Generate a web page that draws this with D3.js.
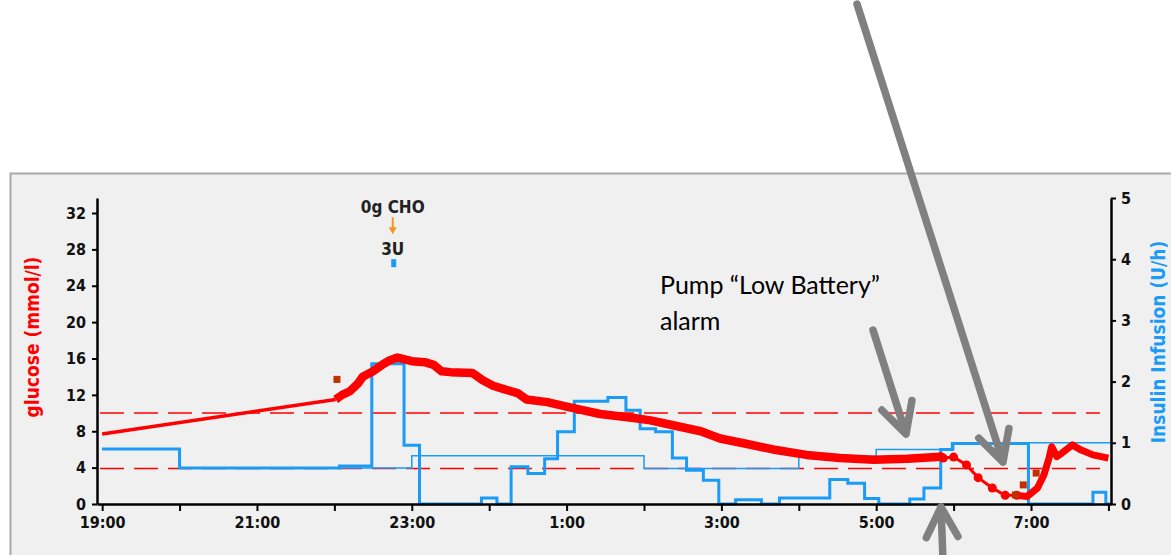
<!DOCTYPE html>
<html>
<head>
<meta charset="utf-8">
<script src="https://cdn.jsdelivr.net/npm/d3@7"></script>
<style>
  body { margin: 0; background: #fff; }
  svg { display: block; }
</style>
</head>
<body>
<svg id="chart" width="1171" height="555"></svg>
<script>
// delivered insulin infusion (U/h), step changes
const infusionTimes = ["19:00", "20:00", "22:04", "22:29", "22:54", "23:06", "23:54", "00:06", "00:17", "00:30",
  "00:43", "00:53", "01:06", "01:32", "01:46", "01:57", "02:09", "02:22", "02:33", "02:46", "02:58", "03:11",
  "03:31", "03:45", "04:24", "04:38", "04:51", "05:02", "05:26", "05:37", "05:50", "05:59", "06:58", "07:48",
  "07:58", "08:02"];
const infusionRates = [0.9, 0.59, 0.62, 2.29, 0.96, 0, 0.1, 0, 0.61, 0.5,
  0.74, 1.18, 1.68, 1.74, 1.53, 1.23, 1.18, 0.75, 0.55, 0.39, 0, 0.07,
  0, 0.1, 0.4, 0.34, 0.09, 0, 0.08, 0.26, 0.89, 0.99, 0, 0.19,
  0, 0];

// programmed basal profile (U/h)
const basalTimes = ["19:00", "20:00", "23:00", "02:00", "04:00", "05:00", "06:00", "08:02"];
const basalRates = [0.9, 0.59, 0.79, 0.58, 0.78, 0.89, 1.0, 1.0];

// glucose (mmol/l)
const gapTimes = ["19:00", "22:01"];
const gapGlucose = [7.7, 11.5];

const sensorTimes = ["22:01", "22:06", "22:12", "22:18", "22:22", "22:30", "22:38", "22:43", "22:49", "23:00",
  "23:10", "23:17", "23:23", "23:30", "23:47", "23:55", "00:03", "00:12", "00:22", "00:29", "00:45", "01:00",
  "01:26", "01:52", "02:05", "02:18", "02:44", "02:59", "03:20", "03:40", "04:06", "04:32", "04:58", "05:24",
  "05:50"];
const sensorGlucose = [11.5, 12.0, 12.4, 13.2, 14.0, 14.6, 15.4, 15.8, 16.1, 15.7,
  15.6, 15.3, 14.6, 14.5, 14.4, 13.6, 13.0, 12.6, 12.2, 11.5, 11.2, 10.7,
  9.9, 9.45, 9.2, 8.8, 8.0, 7.2, 6.6, 6.0, 5.4, 5.05, 4.87, 4.98,
  5.2];

const dipTimes = ["05:50", "05:52", "06:00", "06:10", "06:19", "06:30", "06:40", "06:49"];
const dipGlucose = [5.2, 5.05, 5.16, 4.3, 2.9, 1.76, 0.95, 0.95];

const recoveryTimes = ["06:49", "06:57", "07:05", "07:10", "07:14", "07:16", "07:20", "07:24", "07:32", "07:38",
  "07:48", "08:00"];
const recoveryGlucose = [0.95, 0.83, 1.76, 3.2, 5.05, 6.3, 5.2, 5.6, 6.5, 6.0,
  5.4, 5.05];

const meterTimes = ["22:02", "06:48", "06:54", "07:04"];
const meterGlucose = [13.7, 1.0, 2.1, 3.4];

const bolusTime = "22:46";
const bolusUnits = 3;
const carbGrams = 0;

const targetLow = 3.9;
const targetHigh = 10;

const glucoseTicks = [0, 4, 8, 12, 16, 20, 24, 28, 32];
const insulinTicks = [0, 1, 2, 3, 4, 5];
const timeStart = "18:56";
const timeEnd = "08:02";

const toDate = (s) => {
  const [h, m] = s.split(":").map(Number);
  return new Date(2020, 0, h >= 12 ? 1 : 2, h, m);
};
const zip = (times, values) => times.map((t, i) => ({ date: toDate(t), value: values[i] }));

const red = "#ff0000";
const blue = "#1a9bf6";
const tickFont = "'DejaVu Sans Condensed', 'DejaVu Sans', sans-serif";

const plot = { left: 97, right: 1111, top: 198, bottom: 504 };

const svg = d3.select("#chart");

svg.append("rect")
  .attr("x", 10.5)
  .attr("y", 173.5)
  .attr("width", 1200)
  .attr("height", 420)
  .attr("fill", "#f0f0f0")
  .attr("stroke", "#aaaaaa")
  .attr("stroke-width", 2);

const x = d3.scaleTime()
  .domain([toDate(timeStart), toDate(timeEnd)])
  .range([plot.left, plot.right]);

const yGlucose = d3.scaleLinear()
  .domain([0, 32 * (plot.bottom - plot.top) / 291])
  .range([plot.bottom, plot.top]);

const yInsulin = d3.scaleLinear()
  .domain([0, 5])
  .range([plot.bottom, plot.top]);

// target range
svg.append("g")
  .selectAll("line")
  .data([targetLow, targetHigh])
  .join("line")
  .attr("x1", plot.left + 3)
  .attr("x2", plot.right - 11)
  .attr("y1", (d) => yGlucose(d))
  .attr("y2", (d) => yGlucose(d))
  .attr("stroke", red)
  .attr("stroke-width", 1.5)
  .attr("stroke-dasharray", "24,10");

const stepLine = d3.line()
  .x((d) => x(d.date))
  .y((d) => yInsulin(d.value))
  .curve(d3.curveStepAfter);

svg.append("path")
  .datum(zip(basalTimes, basalRates))
  .attr("fill", "none")
  .attr("stroke", blue)
  .attr("stroke-width", 1.5)
  .attr("d", stepLine);

svg.append("path")
  .datum(zip(infusionTimes, infusionRates))
  .attr("fill", "none")
  .attr("stroke", blue)
  .attr("stroke-width", 3)
  .attr("d", stepLine);

const glucoseLine = d3.line()
  .x((d) => x(d.date))
  .y((d) => yGlucose(d.value));

svg.append("path")
  .datum(zip(gapTimes, gapGlucose))
  .attr("fill", "none")
  .attr("stroke", red)
  .attr("stroke-width", 3.5)
  .attr("d", glucoseLine);

[[sensorTimes, sensorGlucose, 8.5], [dipTimes, dipGlucose, 3], [recoveryTimes, recoveryGlucose, 7]]
  .forEach(([times, values, width]) => {
    svg.append("path")
      .datum(zip(times, values))
      .attr("fill", "none")
      .attr("stroke", red)
      .attr("stroke-width", width)
      .attr("stroke-linejoin", "round")
      .attr("d", glucoseLine);
  });

svg.append("g")
  .selectAll("circle")
  .data(zip(dipTimes, dipGlucose))
  .join("circle")
  .attr("cx", (d) => x(d.date))
  .attr("cy", (d) => yGlucose(d.value))
  .attr("r", 4.5)
  .attr("fill", red);

svg.append("g")
  .selectAll("rect")
  .data(zip(meterTimes, meterGlucose))
  .join("rect")
  .attr("x", (d) => x(d.date) - 3.5)
  .attr("y", (d) => yGlucose(d.value) - 3.5)
  .attr("width", 7)
  .attr("height", 7)
  .attr("fill", "#c33000");

// bolus + carbs marker
const bx = x(toDate(bolusTime));
const markerTop = yInsulin(4.0);

svg.append("rect")
  .attr("x", bx - 2.5)
  .attr("y", markerTop)
  .attr("width", 5)
  .attr("height", 8)
  .attr("fill", blue);

svg.append("text")
  .attr("x", bx - 1)
  .attr("y", markerTop - 4)
  .attr("text-anchor", "middle")
  .style("font-family", tickFont)
  .style("font-weight", "bold")
  .style("font-size", "17px")
  .attr("fill", "#222")
  .text(`${bolusUnits}U`);

svg.append("line")
  .attr("x1", bx - 1)
  .attr("x2", bx - 1)
  .attr("y1", markerTop - 42)
  .attr("y2", markerTop - 30)
  .attr("stroke", "#f7941d")
  .attr("stroke-width", 2);

svg.append("path")
  .attr("d", `M${bx - 5},${markerTop - 32} L${bx + 3},${markerTop - 32} L${bx - 1},${markerTop - 25} Z`)
  .attr("fill", "#f7941d");

svg.append("text")
  .attr("x", bx - 1)
  .attr("y", markerTop - 46)
  .attr("text-anchor", "middle")
  .style("font-family", tickFont)
  .style("font-weight", "bold")
  .style("font-size", "17px")
  .attr("fill", "#222")
  .text(`${carbGrams}g CHO`);

// axes
const styleAxis = (g) => {
  g.select(".domain").attr("stroke", "#000").attr("stroke-width", 2.5);
  g.selectAll(".tick line").attr("stroke", "#000").attr("stroke-width", 2);
  g.selectAll(".tick text")
    .attr("fill", "#111")
    .style("font-family", tickFont)
    .style("font-weight", "bold")
    .style("font-size", "16px");
};

svg.append("g")
  .attr("transform", `translate(${plot.left},0)`)
  .call(d3.axisLeft(yGlucose).tickValues(glucoseTicks).tickSize(5).tickSizeOuter(0).tickPadding(6))
  .call(styleAxis);

svg.append("g")
  .attr("transform", `translate(${plot.right},0)`)
  .call(
    d3.axisRight(yInsulin)
      .tickValues(insulinTicks)
      .tickFormat(d3.format("d"))
      .tickSize(5)
      .tickSizeOuter(0)
      .tickPadding(5)
  )
  .call(styleAxis);

const hourFormat = d3.timeFormat("%-H:%M");
svg.append("g")
  .attr("transform", `translate(0,${plot.bottom})`)
  .call(
    d3.axisBottom(x)
      .ticks(d3.timeHour.every(1))
      .tickSize(7)
      .tickSizeOuter(0)
      .tickPadding(6)
      .tickFormat((d) => (d.getHours() % 2 === 1 ? hourFormat(d) : ""))
  )
  .call(styleAxis);

svg.append("text")
  .attr("transform", `translate(32,${(plot.top + plot.bottom) / 2 - 14}) rotate(-90)`)
  .attr("text-anchor", "middle")
  .attr("dominant-baseline", "central")
  .style("font-family", tickFont)
  .style("font-weight", "bold")
  .style("font-size", "19px")
  .attr("fill", red)
  .text("glucose (mmol/l)");

svg.append("text")
  .attr("transform", `translate(1158,${(plot.top + plot.bottom) / 2 - 9}) rotate(-90)`)
  .attr("text-anchor", "middle")
  .attr("dominant-baseline", "central")
  .style("font-family", tickFont)
  .style("font-weight", "bold")
  .style("font-size", "19px")
  .attr("fill", blue)
  .text("Insulin Infusion (U/h)");

// annotations
const note = svg.append("text")
  .style("font-family", "Lato, 'Open Sans', sans-serif")
  .style("font-size", "25px")
  .attr("fill", "#000");
note.append("tspan").attr("x", 660).attr("y", 294).text("Pump \u201cLow Battery\u201d");
note.append("tspan").attr("x", 660).attr("y", 330).text("alarm");

const arrows = [
  { from: [857, 4], to: [1003, 462] },
  { from: [873, 330], to: [906, 434] },
  { from: [943, 560], to: [941, 507] },
];

const arrowPath = ({ from, to }) => {
  const angle = Math.atan2(from[1] - to[1], from[0] - to[0]);
  const len = 34;
  const spread = Math.PI / 6.5;
  const a = [to[0] + len * Math.cos(angle - spread), to[1] + len * Math.sin(angle - spread)];
  const b = [to[0] + len * Math.cos(angle + spread), to[1] + len * Math.sin(angle + spread)];
  return `M${from[0]},${from[1]} L${to[0]},${to[1]} M${a[0]},${a[1]} L${to[0]},${to[1]} L${b[0]},${b[1]}`;
};

svg.append("g")
  .selectAll("path")
  .data(arrows)
  .join("path")
  .attr("d", arrowPath)
  .attr("fill", "none")
  .attr("stroke", "#808080")
  .attr("stroke-width", 7.5)
  .attr("stroke-linecap", "round")
  .attr("stroke-linejoin", "round");
</script>
</body>
</html>
